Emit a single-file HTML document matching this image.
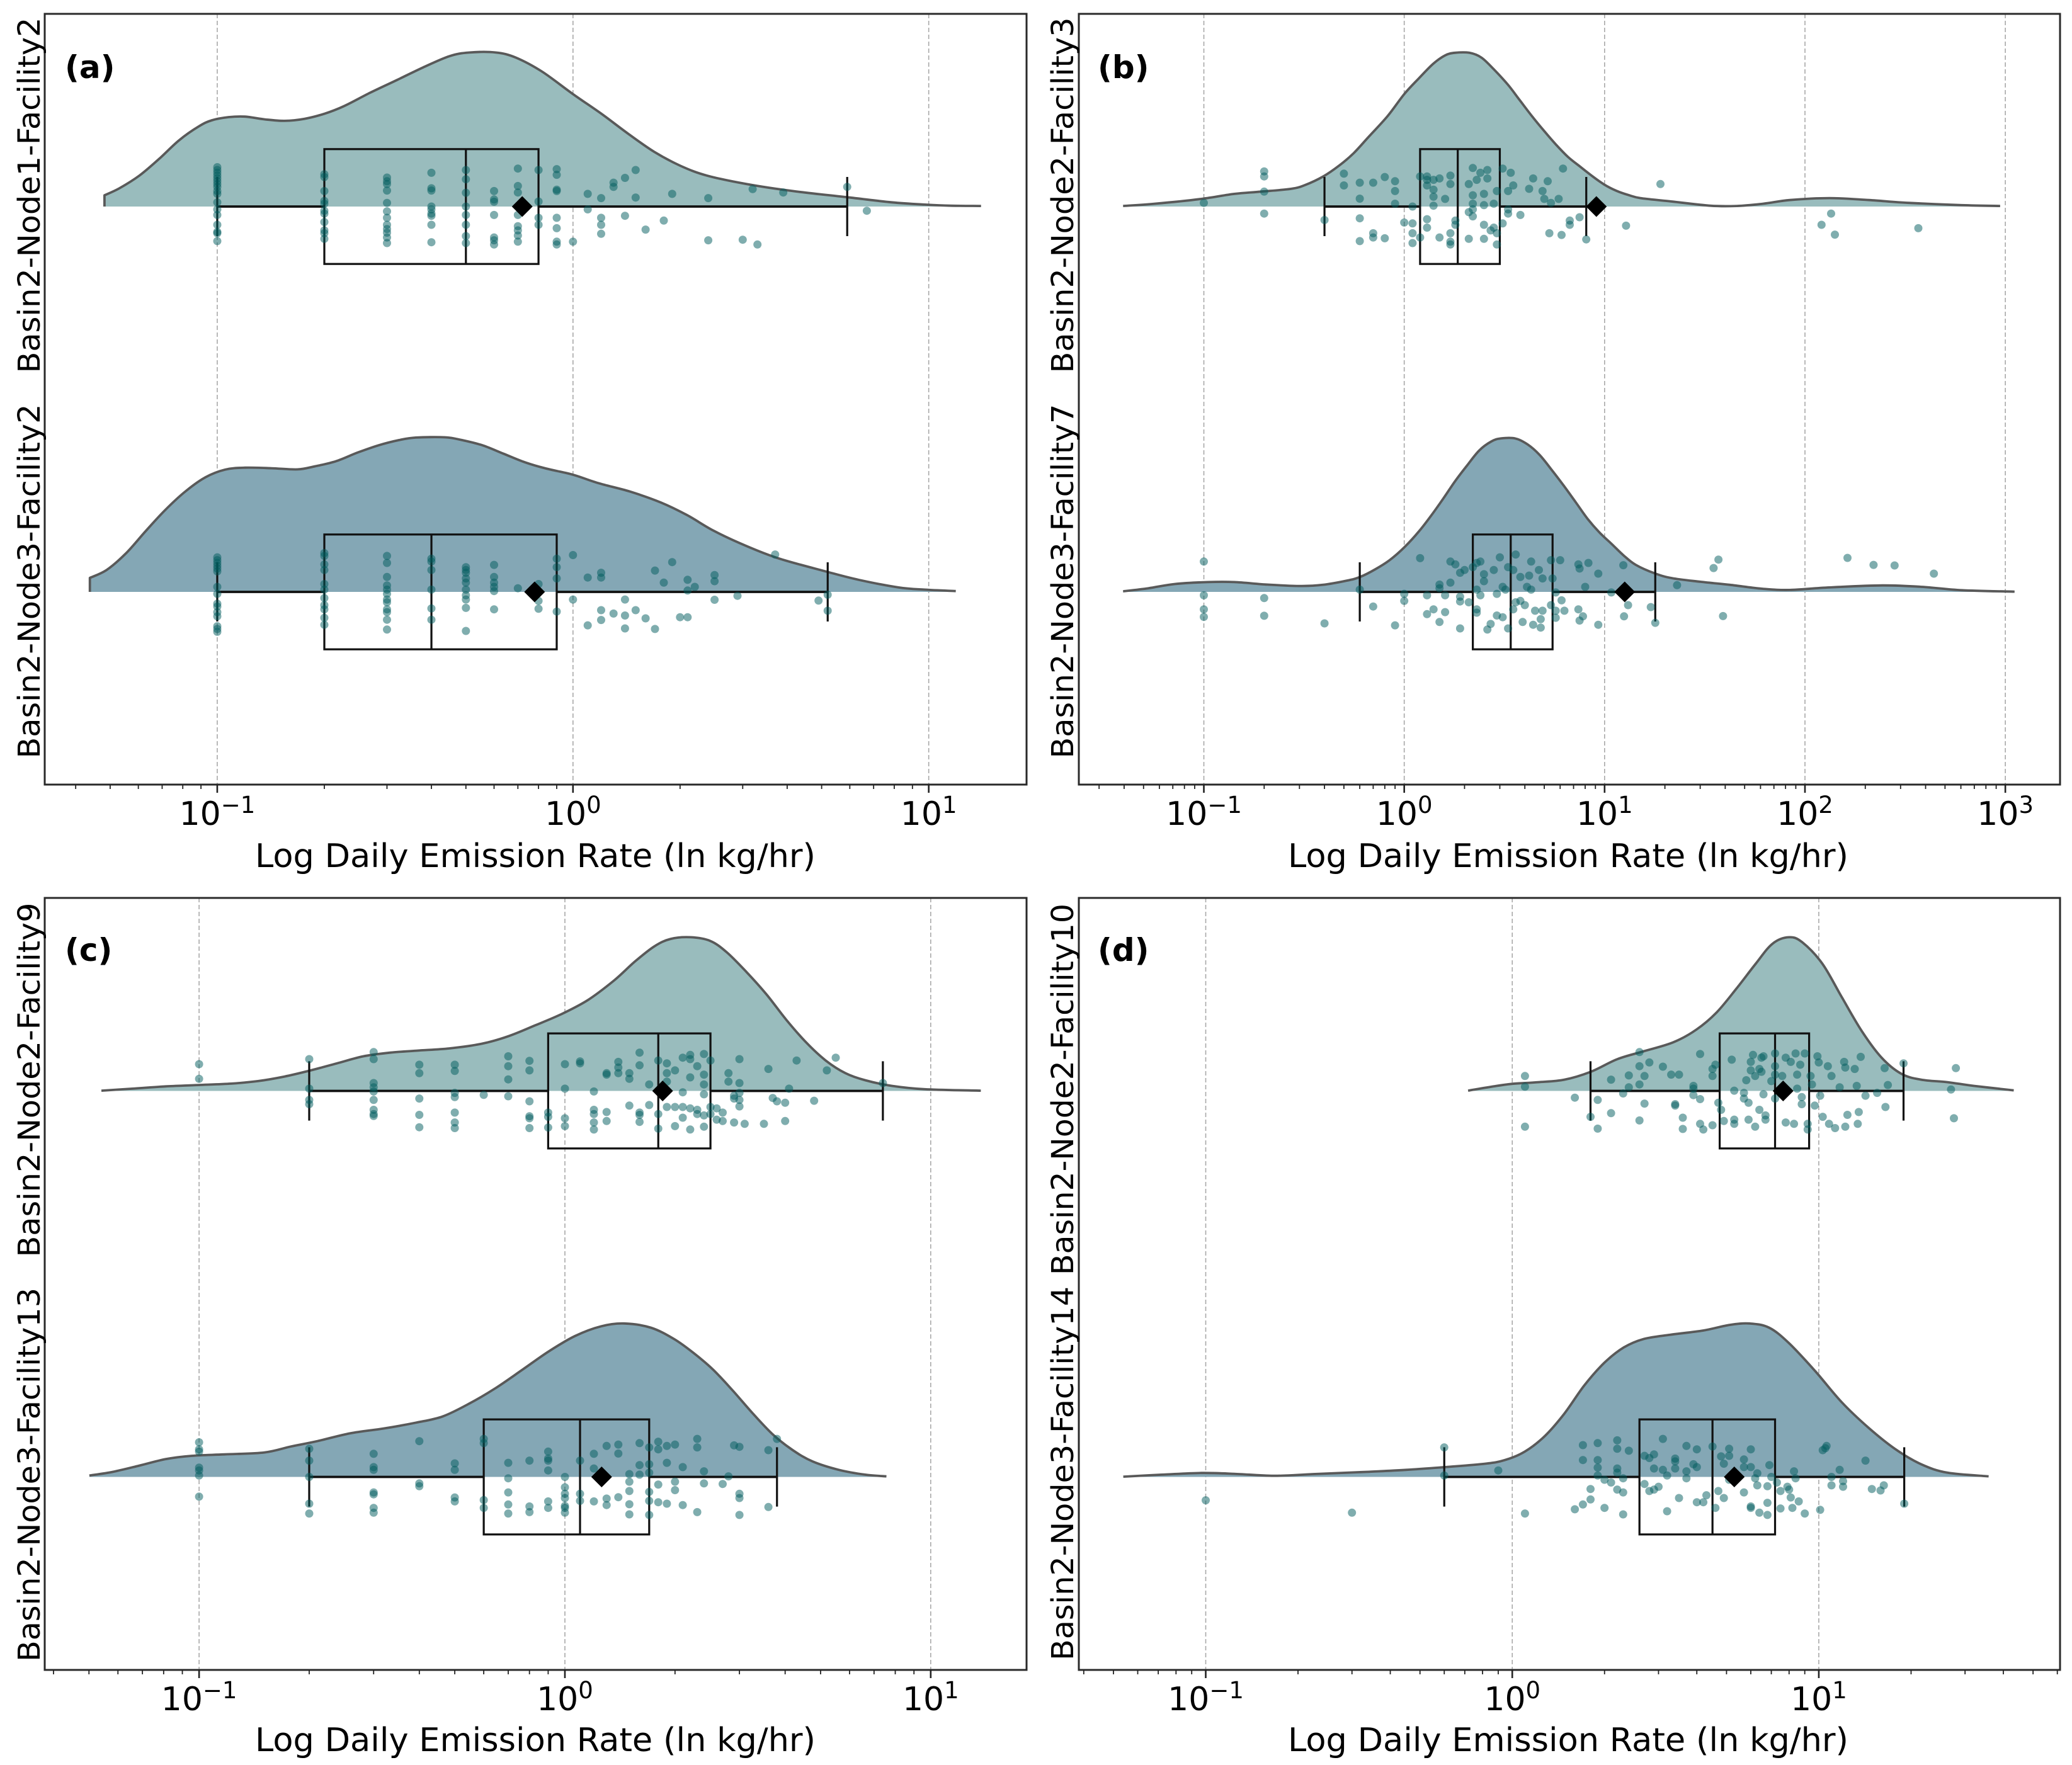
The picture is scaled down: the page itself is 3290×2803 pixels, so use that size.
<!DOCTYPE html>
<html lang="en">
<head>
<meta charset="utf-8">
<title>Raincloud plots of log daily emission rate</title>
<style>
html,body{margin:0;padding:0;background:#fff;}
svg{display:block;}
text{font-family:"DejaVu Sans","Liberation Sans",sans-serif;fill:#000;}
</style>
</head>
<body>
<svg id="chart" xmlns="http://www.w3.org/2000/svg" width="3290" height="2803" viewBox="0 0 3290 2803">
<rect x="0" y="0" width="3290" height="2803" fill="#fff"/>
<g id="marks"></g>

<text x="103" y="124" font-size="50" font-weight="700">(a)</text>
<text x="1743" y="124" font-size="50" font-weight="700">(b)</text>
<text x="103" y="1526" font-size="50" font-weight="700">(c)</text>
<text x="1743" y="1526" font-size="50" font-weight="700">(d)</text>

<text x="850" y="1377" font-size="52" text-anchor="middle" textLength="890" lengthAdjust="spacingAndGlyphs">Log Daily Emission Rate (ln kg/hr)</text>
<text x="2490" y="1377" font-size="52" text-anchor="middle" textLength="890" lengthAdjust="spacingAndGlyphs">Log Daily Emission Rate (ln kg/hr)</text>
<text x="850" y="2781" font-size="52" text-anchor="middle" textLength="890" lengthAdjust="spacingAndGlyphs">Log Daily Emission Rate (ln kg/hr)</text>
<text x="2490" y="2781" font-size="52" text-anchor="middle" textLength="890" lengthAdjust="spacingAndGlyphs">Log Daily Emission Rate (ln kg/hr)</text>

<text transform="translate(63,310) rotate(-90)" font-size="48" text-anchor="middle" textLength="565" lengthAdjust="spacingAndGlyphs">Basin2-Node1-Facility2</text>
<text transform="translate(63,923) rotate(-90)" font-size="48" text-anchor="middle" textLength="563" lengthAdjust="spacingAndGlyphs">Basin2-Node3-Facility2</text>
<text transform="translate(1704,310) rotate(-90)" font-size="48" text-anchor="middle" textLength="565" lengthAdjust="spacingAndGlyphs">Basin2-Node2-Facility3</text>
<text transform="translate(1704,923) rotate(-90)" font-size="48" text-anchor="middle" textLength="563" lengthAdjust="spacingAndGlyphs">Basin2-Node3-Facility7</text>
<text transform="translate(63,1715) rotate(-90)" font-size="48" text-anchor="middle" textLength="563" lengthAdjust="spacingAndGlyphs">Basin2-Node2-Facility9</text>
<text transform="translate(63,2342) rotate(-90)" font-size="48" text-anchor="middle" textLength="594" lengthAdjust="spacingAndGlyphs">Basin2-Node3-Facility13</text>
<text transform="translate(1704,1730) rotate(-90)" font-size="48" text-anchor="middle" textLength="590" lengthAdjust="spacingAndGlyphs">Basin2-Node2-Facility10</text>
<text transform="translate(1704,2340) rotate(-90)" font-size="48" text-anchor="middle" textLength="594" lengthAdjust="spacingAndGlyphs">Basin2-Node3-Facility14</text>
</svg>

<script>
/* ---------- DATA ---------- */
/* Tick exponents (labels are 10^n) */
const ticksA=[-1,0,1];
const ticksB=[-1,0,1,2,3];
const ticksC=[-1,0,1];
const ticksD=[-1,0,1];

/* x-axis log10 limits */
const limitsA=[-1.485,1.275];
const limitsB=[-1.624,3.273];
const limitsC=[-1.422,1.262];
const limitsD=[-1.414,1.787];

/* Box stats: whisker low, q1, median, q3, whisker high, mean */
const boxA1=[0.1,0.2,0.5,0.8,5.9,0.72];
const boxA2=[0.1,0.2,0.4,0.9,5.2,0.78];
const boxB1=[0.4,1.2,1.85,3.0,8.1,9.1];
const boxB2=[0.6,2.2,3.4,5.5,17.9,12.6];
const boxC1=[0.2,0.9,1.8,2.5,7.4,1.85];
const boxC2=[0.2,0.6,1.1,1.7,3.8,1.26];
const boxD1=[1.8,4.75,7.2,9.3,18.9,7.65];
const boxD2=[0.6,2.6,4.5,7.2,19,5.3];

/* KDE curves: log10 rate grid and relative density */
const kdeLogA1=[-1.317,-1.275,-1.219,-1.163,-1.108,-1.052,-1.015,-0.968,-0.922,-0.866,-0.811,-0.755,-0.699,-0.644,-0.570,-0.495,-0.421,-0.347,-0.291,-0.217,-0.161,-0.087,0,0.080,0.154,0.228,0.302,0.377,0.488,0.618,0.772,0.896,0.989,1.063,1.147];
const kdeDenA1=[40,65,110,170,235,285,307,318,320,310,305,312,330,357,405,450,495,535,548,548,530,480,400,330,260,195,145,110,80,55,33,15,7,3,2];
const kdeLogA2=[-1.358,-1.311,-1.256,-1.200,-1.145,-1.089,-1.033,-0.978,-0.922,-0.848,-0.774,-0.725,-0.666,-0.607,-0.548,-0.489,-0.442,-0.359,-0.312,-0.253,-0.194,-0.135,-0.076,0,0.071,0.160,0.247,0.321,0.395,0.488,0.581,0.710,0.803,0.915,0.989,1.076];
const kdeDenA2=[50,78,138,218,293,358,408,435,442,440,436,447,465,495,521,540,549,550,540,521,491,461,439,417,387,357,318,273,218,163,118,73,43,16,8,3];
const kdeLogB1=[-1.403,-1.244,-1.013,-0.848,-0.716,-0.565,-0.493,-0.402,-0.324,-0.252,-0.180,-0.084,0,0.073,0.145,0.205,0.253,0.325,0.385,0.446,0.518,0.578,0.638,0.698,0.758,0.818,0.878,0.939,0.999,1.059,1.119,1.179,1.321,1.528,1.660,1.792,1.924,2.122,2.320,2.518,2.782,2.974];
const kdeDenB1=[2,10,27,45,53,63,77,108,146,190,246,321,400,456,508,538,547,547,530,489,433,377,321,269,220,176,142,108,78,56,41,30,19,3,2,10,23,30,23,13,5,2];
const kdeLogB2=[-1.403,-1.277,-1.145,-0.980,-0.848,-0.683,-0.518,-0.408,-0.287,-0.221,-0.143,-0.071,0.001,0.073,0.134,0.194,0.254,0.314,0.374,0.434,0.482,0.554,0.615,0.675,0.735,0.795,0.855,0.915,0.975,1.036,1.096,1.156,1.250,1.336,1.478,1.627,1.792,1.924,2.122,2.386,2.584,2.782,3.046];
const kdeDenB2=[2,13,28,35,35,26,21,25,40,53,81,114,159,215,271,331,394,450,503,535,546,546,525,488,435,379,320,260,211,170,129,96,66,49,36,25,11,7,16,23,18,6,1];
const kdeLogC1=[-1.267,-1.182,-1.092,-1.002,-0.912,-0.839,-0.767,-0.695,-0.623,-0.551,-0.478,-0.406,-0.316,-0.226,-0.153,-0.081,-0.009,0.063,0.135,0.190,0.244,0.289,0.343,0.397,0.442,0.496,0.551,0.605,0.659,0.713,0.767,0.821,0.894,0.984,1.137];
const kdeDenC1=[1,8,16,21,26,35,51,73,98,123,136,143,151,168,195,233,273,323,393,458,513,540,546,533,493,423,343,253,173,108,63,38,18,6,1];
const kdeLogC2=[-1.300,-1.236,-1.164,-1.092,-1.020,-0.930,-0.821,-0.749,-0.677,-0.587,-0.496,-0.406,-0.334,-0.262,-0.190,-0.117,-0.045,0.027,0.099,0.162,0.235,0.298,0.352,0.406,0.460,0.514,0.569,0.623,0.677,0.749,0.821,0.879];
const kdeDenC2=[5,18,40,63,75,80,87,108,127,155,172,193,215,260,315,380,445,500,535,545,530,490,440,380,305,225,150,95,55,25,8,2];
const kdeLogD1=[-0.144,-0.067,-0.002,0.084,0.170,0.256,0.343,0.429,0.526,0.601,0.666,0.731,0.795,0.849,0.903,0.946,1.011,1.075,1.140,1.205,1.269,1.334,1.420,1.506,1.636];
const kdeDenD1=[1,15,25,31,40,68,113,141,173,218,278,363,453,523,546,528,453,333,213,118,61,40,31,18,2];
const kdeLogD2=[-1.269,-1.144,-1.015,-0.907,-0.778,-0.649,-0.476,-0.347,-0.218,-0.088,-0.024,0.041,0.106,0.170,0.235,0.300,0.364,0.429,0.515,0.623,0.709,0.774,0.838,0.903,0.989,1.075,1.162,1.248,1.334,1.420,1.554];
const kdeDenD2=[1,8,14,11,4,10,18,25,35,47,60,90,145,225,325,405,460,490,505,520,540,545,530,475,375,265,175,100,45,15,2];

/* Observations: [rate kg/hr, jitter] */
const pointsA1=[[.1,140],[.1,130],[.1,120],[.1,110],[.1,100],[.1,90],[.1,80],[.1,70],[.1,55],[.1,45],[.1,15],[.1,-10],[.1,-30],[.1,-65],[.1,-90],[.1,-95],[.1,-123],
[.2,115],[.2,105],[.2,55],[.2,20],[.2,10],[.2,-15],[.2,-25],[.2,-55],[.2,-85],[.2,-95],[.2,-115],
[.3,103],[.3,90],[.3,80],[.3,57],[.3,13],[.3,-17],[.3,-40],[.3,-65],[.3,-80],[.3,-93],[.3,-110],[.3,-130],
[.4,120],[.4,65],[.4,57],[.4,0],[.4,-10],[.4,-25],[.4,-33],[.4,-65],[.4,-127],
[.5,130],[.5,97],[.5,49],[.5,0],[.5,-30],[.5,-65],[.5,-105],[.5,-130],
[.6,55],[.6,25],[.6,17],[.6,-30],[.6,-110],[.6,-120],[.6,-135],
[.7,135],[.7,73],[.7,50],[.7,-30],[.7,-70],[.7,-85],[.7,-103],[.7,-125],
[.8,130],[.8,18],[.8,-40],[.8,-65],
[.9,133],[.9,113],[.9,60],[.9,55],[.9,-40],[.9,-77],[.9,-125],[.9,-135],
[1,-125],[1.1,45],[1.1,-10],[1.2,30],[1.2,-40],[1.2,-65],[1.2,-97],[1.3,85],[1.3,70],[1.4,102],[1.4,-33],[1.5,130],[1.5,32],[1.6,-82],[1.8,-50],[1.9,45],[2.4,30],[2.4,-120],[3.0,-118],[3.3,-135],[3.2,62],[3.9,50],[5.9,70],[6.7,-15]];
const pointsA2=[[.1,123],[.1,113],[.1,103],[.1,93],[.1,83],[.1,73],[.1,18],[.1,-7],[.1,-42],[.1,-52],[.1,-72],[.1,-87],[.1,-122],[.1,-132],[.1,-142],
[.2,138],[.2,128],[.2,98],[.2,78],[.2,28],[.2,8],[.2,-22],[.2,-47],[.2,-62],[.2,-92],[.2,-117],
[.3,128],[.3,103],[.3,53],[.3,23],[.3,8],[.3,-7],[.3,-27],[.3,-37],[.3,-62],[.3,-72],[.3,-99],[.3,-134],
[.4,118],[.4,108],[.4,78],[.4,8],[.4,-59],[.4,-99],
[.5,88],[.5,78],[.5,68],[.5,48],[.5,33],[.5,8],[.5,-12],[.5,-27],[.5,-57],[.5,-139],
[.6,96],[.6,53],[.6,33],[.6,18],[.6,3],[.6,-62],[.7,13],[.8,28],[.8,-32],[.8,-60],[.9,118],[.9,88],[.9,48],[.9,-70],
[1,131],[1,-27],[1.1,51],[1.1,-119],[1.2,68],[1.2,51],[1.2,-65],[1.2,-100],[1.3,-77],[1.4,-27],[1.4,-84],[1.4,-130],[1.5,-65],[1.6,-94],[1.7,76],[1.7,-132],[1.8,33],[1.9,106],[2,-90],[2.1,43],[2.1,5],[2.1,-90],[2.2,18],[2.5,60],[2.5,38],[2.5,-28],[2.9,-14],[3.7,133],[4.9,-31],[5.2,-10],[5.2,-67]];
const pointsB1=[[.1,13],[.2,125],[.2,107],[.2,53],[.2,-25],[.4,-48],[.5,117],[.5,75],[.6,85],[.6,28],[.6,-42],[.6,-123],[.7,85],[.7,-95],[.7,-110],[.8,105],[.8,-113],[.9,90],[.9,55],[.9,10],[1,-57],
[1.1,0],[1.1,-60],[1.1,-95],[1.1,-130],[1.2,107],[1.2,-110],[1.3,107],[1.3,95],[1.3,75],[1.3,-45],[1.3,-75],[1.4,95],[1.4,60],[1.4,35],[1.4,3],[1.5,100],[1.5,-110],[1.6,27],
[1.7,110],[1.7,80],[1.7,-95],[1.7,-125],[1.7,-135],[1.8,-50],[1.8,-65],[2.1,80],[2.1,-20],[2.1,-115],[2.2,137],[2.2,40],[2.2,10],[2.2,-10],[2.2,-35],[2.3,95],[2.4,120],
[2.5,45],[2.5,5],[2.5,-65],[2.5,-115],[2.6,130],[2.6,100],[2.7,-85],[2.8,10],[2.8,-75],[2.9,55],[2.9,-95],[2.9,-135],[3.1,135],[3.1,-60],[3.3,55],[3.3,-10],[3.3,-25],[3.4,120],[3.5,75],[3.8,-30],
[4.2,63],[4.4,100],[4.9,55],[5,27],[5.2,90],[5.3,-95],[5.4,13],[5.9,27],[6.1,-101],[6.2,135],[6.7,-50],[6.7,-65],[7.5,-38],[8.1,-117],[12.8,-68],[19,80],[121,-65],[135,-25],[141,-100],[368,-77]];
const pointsB2=[[.1,108],[.1,-12],[.1,-62],[.1,-89],[.2,-22],[.2,-85],[.4,-112],[.6,8],[.7,-52],[.9,-119],[1,-7],[1,-32],[1.2,120],[1.3,-12],[1.3,-79],[1.4,-62],[1.5,26],[1.5,13],[1.5,-107],[1.6,-12],[1.6,-72],[1.7,108],[1.7,33],[1.8,98],[1.9,68],[1.9,-17],[1.9,-34],[1.9,-130],[2,78],[2.1,-37],[2.2,88],[2.3,8],[2.3,-62],[2.3,-74],[2.3,103],[2.4,108],[2.4,-12],[2.5,63],[2.5,38],[2.6,-134],[2.7,-114],[2.8,78],[2.9,-7],[2.9,-84],[3,123],[3.1,18],[3.1,-90],[3.2,8],[3.3,88],[3.3,-130],[3.5,78],[3.5,-62],[3.6,-37],[3.6,133],[3.8,53],[3.8,-32],[3.9,-107],[4,-47],[4.1,18],[4.2,58],[4.3,108],[4.3,8],[4.4,-117],[4.5,-67],[4.7,78],[4.9,-67],[4.9,48],[4.8,-97],[4.8,-127],[5.4,113],[5.5,48],[5.4,-47],[5.7,-2],[5.7,-92],[5.7,-67],[6,113],[6.1,-30],[6.3,-67],[7.4,98],[7.5,83],[7.4,-62],[7.5,-102],[7.8,-87],[8,18],[8.3,103],[9.3,-117],[9.3,65],[10.8,-2],[12.4,95],[12.5,-87],[13.1,-47],[17,-54],[17.9,-110],[23,24],[35,85],[37,115],[39,-86],[163,121],[220,96],[280,94],[440,65]];
const pointsC1=[[.1,95],[.1,43],[.2,113],[.2,8],[.2,-32],[.2,-47],[.3,138],[.3,113],[.3,28],[.3,13],[.3,-2],[.3,-32],[.3,-67],[.3,-82],[.3,-89],[.4,93],[.4,63],[.4,-27],[.4,-85],[.4,-129],[.5,93],[.5,71],[.5,-7],[.5,-22],[.5,-77],[.5,-112],[.5,-132],[.6,-14],[.7,123],[.7,88],[.7,41],[.7,-19],[.8,107],[.8,73],[.8,-37],[.8,-90],[.8,-97],[.8,-132],[.9,-77],[.9,-92],[.9,-130],[1,95],[1,8],[1,-97],[1,-125],[1.1,105],[1.1,98],[1.2,-2],[1.2,-67],[1.2,-82],[1.2,-112],[1.2,-137],[1.3,63],[1.3,58],[1.3,-75],[1.3,-107],[1.4,103],[1.4,83],[1.4,63],[1.5,63],[1.5,43],[1.5,-52],[1.6,136],[1.6,91],[1.6,-77],[1.6,-85],[1.6,-110],[1.7,23],[1.7,-50],[1.8,108],[1.8,-82],[1.8,-134],[1.9,98],[1.9,63],[1.9,33],[1.9,-57],[2,73],[2,-57],[2,-125],[2.1,118],[2.1,-5],[2.1,-57],[2.1,-95],[2.2,128],[2.2,113],[2.2,48],[2.2,-62],[2.2,-137],[2.3,88],[2.3,-67],[2.3,-82],[2.4,131],[2.4,58],[2.4,23],[2.4,-12],[2.4,-87],[2.4,-127],[2.5,108],[2.5,-57],[2.5,-82],[2.6,-62],[2.6,-102],[2.7,-77],[2.7,-107],[2.8,63],[2.8,33],[2.9,-17],[2.9,-112],[2.9,-27],[3,113],[3,28],[3,-7],[3,-32],[3,-55],[3.1,-117],[3.5,-117],[3.6,78],[3.7,-25],[3.8,-37],[4,-42],[4,-107],[4.1,8],[4.3,108],[4.8,-35],[5.2,73],[5.5,118],[7.4,28]];
const pointsC2=[[.1,123],[.1,98],[.1,90],[.1,33],[.1,23],[.1,5],[.1,-70],[.2,100],[.2,58],[.2,0],[.2,-95],[.2,-130],[.3,82],[.3,35],[.3,25],[.3,-55],[.3,-62],[.3,-110],[.3,-127],[.4,127],[.4,-23],[.4,-33],[.5,48],[.5,25],[.5,-73],[.5,-87],[.6,135],[.6,120],[.6,-82],[.6,-110],[.7,50],[.7,-5],[.7,-55],[.7,-98],[.7,-130],[.8,58],[.8,-105],[.8,-125],[.9,90],[.9,65],[.9,58],[.9,23],[.9,-87],[.9,-110],[1,0],[1,-37],[1,-60],[1,-75],[1,-103],[1,-110],[1,-127],[1.1,58],[1.1,-60],[1.1,-85],[1.2,82],[1.2,30],[1.2,-87],[1.3,110],[1.3,-77],[1.3,-100],[1.4,115],[1.4,83],[1.4,-72],[1.5,10],[1.5,-17],[1.5,-50],[1.5,-97],[1.5,-133],[1.6,120],[1.6,42],[1.6,8],[1.7,105],[1.7,45],[1.7,15],[1.7,-53],[1.7,-85],[1.7,-135],[1.8,125],[1.8,98],[1.8,-27],[1.8,-90],[1.9,110],[1.9,50],[1.9,-95],[2,115],[2,-17],[2,-47],[2.1,35],[2.1,-100],[2.3,135],[2.3,105],[2.3,-125],[2.4,20],[2.4,-23],[2.7,-25],[2.8,2],[2.9,112],[3,107],[3,-60],[3,-75],[3,-135],[3.6,95],[3.6,-107],[3.8,135]];
const pointsD1=[[1.1,53],[1.1,15],[1.1,-127],[1.6,-24],[1.8,-92],[1.9,-32],[1.9,-134],[2.1,40],[2.1,-79],[2.3,-9],[2.4,55],[2.4,13],[2.6,138],[2.6,88],[2.6,-105],[2.6,23],[2.7,53],[2.7,-45],[2.8,101],[3.1,86],[3.3,58],[3.4,-47],[3.4,-52],[3.5,58],[3.6,-95],[3.6,-135],[3.9,18],[3.9,8],[3.9,-15],[4.1,131],[4.1,-29],[4.1,-117],[4.2,-137],[4.5,-122],[4.5,78],[4.5,53],[4.6,93],[4.7,-42],[4.8,-67],[4.9,-107],[5.2,111],[5.3,-102],[5.3,-117],[5.3,1],[5.7,-7],[5.7,-27],[5.8,38],[5.9,-42],[5.9,-102],[6,103],[6,73],[6.1,128],[6.2,53],[6.2,-127],[6.4,78],[6.4,-67],[6.5,68],[6.5,118],[6.6,123],[6.6,-12],[6.7,-87],[6.7,-102],[7,35],[7.2,133],[7.2,88],[7.2,58],[7.2,-27],[7.6,53],[7.8,118],[7.8,-112],[8.1,103],[8.3,-117],[8.4,133],[8.5,8],[8.5,58],[8.7,93],[8.8,-22],[8.8,-47],[9,133],[9.2,-117],[9.2,-137],[9.4,53],[9.5,23],[9.7,-52],[9.9,123],[10,101],[10.1,-17],[10.3,-92],[10.7,88],[10.8,-117],[11,53],[11.3,-132],[11.7,13],[12.1,103],[12.2,83],[12.2,-127],[12.4,-85],[13.1,78],[13.3,18],[13.4,-117],[13.5,-75],[13.7,121],[14.2,-17],[15.5,-7],[16.4,81],[16.5,-57],[16.8,21],[18.9,98],[27,5],[27.6,-97],[28,81]];
const pointsD2=[[.1,-83],[.3,-127],[.6,105],[.6,5],[.9,23],[1.1,-130],[1.6,-115],[1.7,113],[1.7,60],[1.7,-98],[1.8,-43],[1.8,-80],[1.9,120],[1.9,60],[1.9,33],[1.9,5],[2,-10],[2,-110],[2.1,-20],[2.2,130],[2.2,100],[2.2,30],[2.2,15],[2.2,-45],[2.3,-5],[2.3,-55],[2.3,-133],[2.4,93],[2.7,75],[2.7,-25],[2.8,67],[2.8,-50],[2.9,80],[2.9,30],[2.9,-45],[3,-35],[3.1,135],[3.1,25],[3.2,5],[3.2,-122],[3.4,65],[3.4,55],[3.4,30],[3.5,-75],[3.7,110],[3.7,20],[3.7,-5],[3.9,45],[4,35],[4,98],[4,-90],[4.2,-90],[4.3,-65],[4.5,108],[4.6,-110],[4.7,-50],[4.8,73],[4.9,-75],[4.9,47],[5.1,100],[5.1,75],[5.1,-10],[5.7,-55],[5.7,62],[5.7,35],[6,35],[6,98],[6,-105],[6,-110],[6.2,-5],[6.3,13],[6.3,-30],[6.4,-127],[6.8,-92],[6.8,-33],[6.8,-135],[6.9,42],[7,0],[7.3,-20],[7.5,-50],[7.5,-112],[7.9,-35],[8,-45],[8.1,-73],[8.2,-110],[8.3,20],[8.4,-5],[8.6,-87],[9,-130],[10.1,-117],[10.3,95],[10.6,110],[10.5,102],[11,0],[11,-30],[11.7,25],[12,-15],[12,-35],[14.2,58],[14.9,-43],[15.9,-48],[16.3,-30],[19,-95]];

/* ---------- LAYOUT ---------- */
const BAND_UNIT=1/1371;            /* density and jitter units, as a fraction of one row band */
const BOX_HALF=0.149, CAP_HALF=0.0768;
const FILL_TOP='#99bcbd', FILL_BOTTOM='#84a7b5';

const panels=[
 {id:'a',left:71,right:1630,top:22,bottom:1246,limits:limitsA,ticks:ticksA,rows:[
  {kx:kdeLogA1,kd:kdeDenA1,pts:pointsA1,box:boxA1,fill:FILL_TOP},
  {kx:kdeLogA2,kd:kdeDenA2,pts:pointsA2,box:boxA2,fill:FILL_BOTTOM}]},
 {id:'b',left:1713,right:3271,top:22,bottom:1246,limits:limitsB,ticks:ticksB,rows:[
  {kx:kdeLogB1,kd:kdeDenB1,pts:pointsB1,box:boxB1,fill:FILL_TOP},
  {kx:kdeLogB2,kd:kdeDenB2,pts:pointsB2,box:boxB2,fill:FILL_BOTTOM}]},
 {id:'c',left:71,right:1630,top:1426,bottom:2652,limits:limitsC,ticks:ticksC,rows:[
  {kx:kdeLogC1,kd:kdeDenC1,pts:pointsC1,box:boxC1,fill:FILL_TOP},
  {kx:kdeLogC2,kd:kdeDenC2,pts:pointsC2,box:boxC2,fill:FILL_BOTTOM}]},
 {id:'d',left:1713,right:3271,top:1426,bottom:2652,limits:limitsD,ticks:ticksD,rows:[
  {kx:kdeLogD1,kd:kdeDenD1,pts:pointsD1,box:boxD1,fill:FILL_TOP},
  {kx:kdeLogD2,kd:kdeDenD2,pts:pointsD2,box:boxD2,fill:FILL_BOTTOM}]}
];

/* ---------- DRAWING ---------- */
const NS='http://www.w3.org/2000/svg';
const root=document.getElementById('marks');

function make(tag,attrs,parent){
  const el=document.createElementNS(NS,tag);
  for(const k in attrs){el.setAttribute(k,attrs[k]);}
  parent.appendChild(el);
  return el;
}
function smooth(p){
  let d='';
  for(let i=0;i<p.length-1;i++){
    const p0=p[Math.max(i-1,0)],p1=p[i],p2=p[i+1],p3=p[Math.min(i+2,p.length-1)];
    const c1x=p1[0]+(p2[0]-p0[0])/6,c1y=p1[1]+(p2[1]-p0[1])/6;
    const c2x=p2[0]-(p3[0]-p1[0])/6,c2y=p2[1]-(p3[1]-p1[1])/6;
    d+='C'+c1x.toFixed(1)+' '+c1y.toFixed(1)+' '+c2x.toFixed(1)+' '+c2y.toFixed(1)+' '+p2[0].toFixed(1)+' '+p2[1].toFixed(1);
  }
  return d;
}

panels.forEach(function(panel){
  const xLog=function(l){return panel.left+(l-panel.limits[0])/(panel.limits[1]-panel.limits[0])*(panel.right-panel.left);};
  const xRate=function(v){return xLog(Math.log10(v));};
  const yBand=function(row,off){return panel.top+(row+0.5+off)*(panel.bottom-panel.top)/2;};

  const g=make('g',{},root);
  
  

  /* gridlines at decades */
  panel.ticks.forEach(function(n){
    const gx=xLog(n);
    const line=make('line',{x1:gx,x2:gx,y1:panel.top,y2:panel.bottom,stroke:'#a8a8a8','stroke-width':1.6,'stroke-dasharray':'7 4'},g);
    
    
  });

  panel.rows.forEach(function(row,r){
    const base=yBand(r,0);
    const curve=row.kx.map(function(l,i){return [xLog(l),yBand(r,-row.kd[i]*BAND_UNIT)];});
    const first=curve[0],last=curve[curve.length-1];
    const top='M'+first[0].toFixed(1)+' '+first[1].toFixed(1)+smooth(curve);

    const fill=make('path',{d:top+'L'+last[0].toFixed(1)+' '+base+'L'+first[0].toFixed(1)+' '+base+'Z',fill:row.fill,stroke:'none'},g);
    
    

    const outline=make('path',{d:(row.kd[0]>30?'M'+first[0].toFixed(1)+' '+base+'L'+first[0].toFixed(1)+' '+first[1].toFixed(1):top.split('C')[0])+top.slice(top.indexOf('C')),fill:'none',stroke:'#595959','stroke-width':3.8,'stroke-linejoin':'round'},g);
    
    

    /* box plot */
    const b=row.box;
    const boxG=make('g',{stroke:'#111','stroke-width':3.2,fill:'none'},g);
    
    
    const boxRect=make('rect',{x:xRate(b[1]),y:yBand(r,-BOX_HALF),width:xRate(b[3])-xRate(b[1]),height:yBand(r,BOX_HALF)-yBand(r,-BOX_HALF)},boxG);
    
    
    const med=make('line',{x1:xRate(b[2]),x2:xRate(b[2]),y1:yBand(r,-BOX_HALF),y2:yBand(r,BOX_HALF)},boxG);
    
    
    const wl=make('line',{x1:xRate(b[0]),x2:xRate(b[1]),y1:base,y2:base,'stroke-width':3.8},boxG);
    
    
    const wh=make('line',{x1:xRate(b[3]),x2:xRate(b[4]),y1:base,y2:base,'stroke-width':3.8},boxG);
    
    
    const cl=make('line',{x1:xRate(b[0]),x2:xRate(b[0]),y1:yBand(r,-CAP_HALF),y2:yBand(r,CAP_HALF)},boxG);
    
    
    const ch=make('line',{x1:xRate(b[4]),x2:xRate(b[4]),y1:yBand(r,-CAP_HALF),y2:yBand(r,CAP_HALF)},boxG);
    
    

    /* jittered observations */
    const dots=make('g',{fill:'#005c5e','fill-opacity':0.5},g);
    
    
    row.pts.forEach(function(p){
      const c=make('circle',{cx:xRate(p[0]).toFixed(1),cy:yBand(r,-p[1]*BAND_UNIT).toFixed(1),r:6.5},dots);
      
      
    });

    /* mean diamond */
    const mx=xRate(b[5]);
    const dia=make('polygon',{points:(mx-16.5)+','+base+' '+mx+','+(base-16.5)+' '+(mx+16.5)+','+base+' '+mx+','+(base+16.5),fill:'#000'},g);
    
    
  });

  /* frame */
  const frame=make('rect',{x:panel.left,y:panel.top,width:panel.right-panel.left,height:panel.bottom-panel.top,fill:'none',stroke:'#2a2a2a','stroke-width':3},g);
  
  

  /* minor ticks */
  for(let dec=Math.floor(panel.limits[0]);dec<Math.ceil(panel.limits[1]);dec++){
    for(let m=2;m<=9;m++){
      const l=dec+Math.log10(m);
      if(l<panel.limits[0]||l>panel.limits[1]){continue;}
      const t=make('line',{x1:xLog(l),x2:xLog(l),y1:panel.bottom,y2:panel.bottom+7,stroke:'#222','stroke-width':1.8},g);
      
      
    }
  }
  /* major ticks + labels */
  panel.ticks.forEach(function(n){
    const tx=xLog(n);
    const t=make('line',{x1:tx,x2:tx,y1:panel.bottom,y2:panel.bottom+13,stroke:'#222','stroke-width':2.6},g);
    
    
    const label=make('text',{x:tx,y:panel.bottom+64,'font-size':52,'text-anchor':'middle'},g);
    
    
    const b10=make('tspan',{},label);
    b10.textContent='10';
    const sup=make('tspan',{'font-size':37,dy:-19},label);
    sup.textContent=String(n).replace('-','\u2212');
  });
});
</script>
</body>
</html>
